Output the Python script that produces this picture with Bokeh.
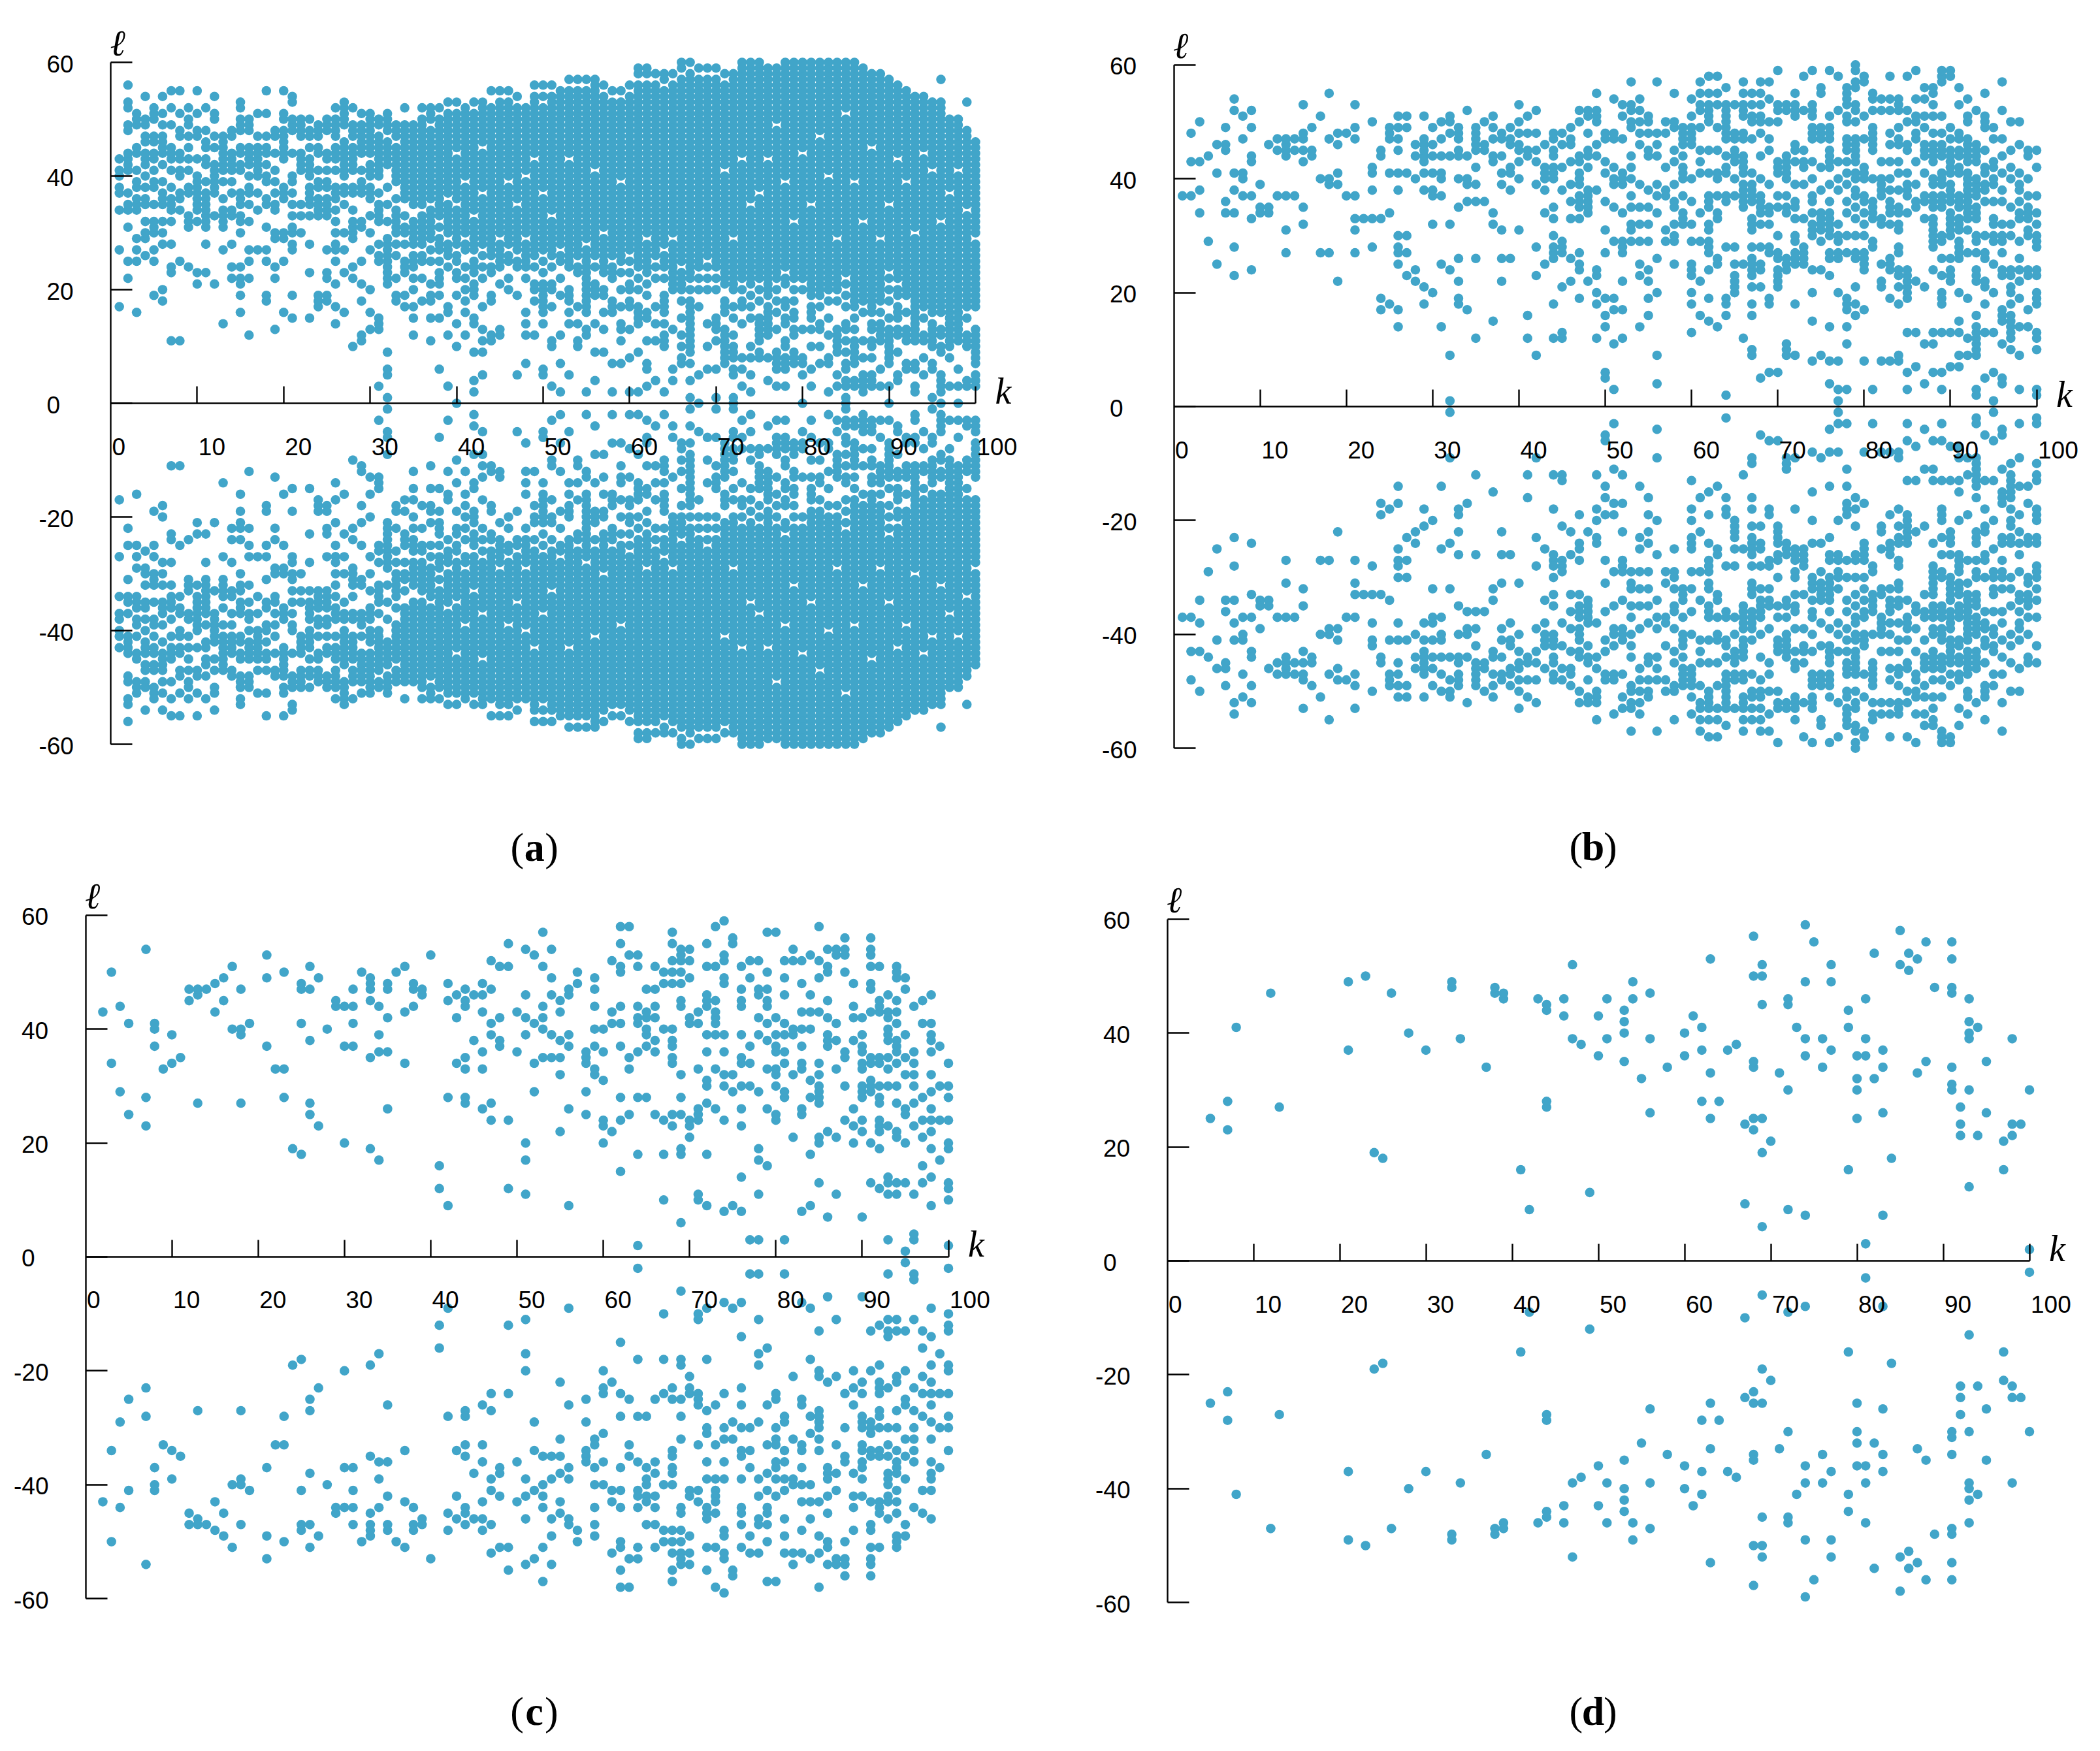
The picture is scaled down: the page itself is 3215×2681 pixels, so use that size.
from bokeh.plotting import figure
from bokeh.models import LinearAxis, FixedTicker, Range1d
from bokeh.layouts import gridplot
from bokeh.embed import file_html
from bokeh.resources import INLINE
from bokeh.core.properties import value

# ---------------- data ----------------
K_VALUES = list(range(1, 101))
X_TICKS = [0, 10, 20, 30, 40, 50, 60, 70, 80, 90, 100]
X_TICK_LABELS = ["0", "10", "20", "30", "40", "50", "60", "70", "80", "90", "100"]
Y_TICKS = [-60, -40, -20, 0, 20, 40, 60]
Y_TICK_LABELS = ["-60", "-40", "-20", "0", "20", "40", "60"]
PANEL_LETTERS = ["a", "b", "c", "d"]

# positive l values per k (k = 1..100); each point (k, l) also appears as (k, -l)
PANEL_A = [
    "17,27,34,37,38,40,41,43", "22,25,31,34,35,37,41-44,48,49,52,53,56",
    "16,25,27,29,34-36,38,39,41,44,45,49-51", "26,29,30,32,35,36,38,40,42-44,46,47,49,50,54",
    "19,25,27,30-32,35,38,39,41,43,44,46,47,50-52", "18,20,28,30,32,35-37,39,42,44-47,49,51,54",
    "11,23,24,28,32,34-36,38,41,43-45,49,52,55", "11,25,34,36,37,40,41,43,44,47,48,51,55",
    "24,31-33,37,38,41,43,45,47,49,50,52", "21,23,32,34-40,43,47,48,51,55",
    "23,28,31-37,39,42,43,45,46,48,52", "21,33,37-42,45,47,50,51,54",
    "14,27,31-34,36,39,41-47", "22,24,28,33,34,37,39,41-44,47,48",
    "16,19,21,22,24,30,32,33,35-37,41,42,44,45,48-50,52,53", "12,22,25,27,32,35,37,38,40,42-45,48-50",
    "27,34,37,40-45,47,51", "18,19,25,27,31,35,36,39,40,42,44,45,47,51,55",
    "13,22,24,29,30,34,35,37,39,41,44,47,48", "16,25,29,30,36-38,43-48,50,51,55",
    "15,19,27,28,30,31,33,35,37,39,40,44,48-50,53,54", "30,33,35,41-44,47-50",
    "15,23,28,33,35-38,40-43,45,47,48,50", "17-19,33-36,38,39,41,44,45,47-49",
    "18,19,22,23,27,33-36,38,39,41,43,44,48-50", "14,17,21,25,27,28,30,32,34,36-38,41,43-45,47-50,52",
    "16,23,27,30,35,37,38,40-46,49-53", "10,22,24,29-32,34,37,38,41-45,47-49,52",
    "11,12,18,21,25,31,32,37-39,41,44-49,51", "13,16,20,27,30,33,36-38,40-42,44-51",
    "3,13-15,25,26,28,32-35,37,40-47,49,50", "1,5,6,9,21-29,32,35,38,42-46,48-51",
    "18,19,22,26,28,30-34,36,39-45,47-49", "17,19,23-25,28,30,31,33,36-49,52",
    "12,15,17,20,22,24-26,28-32,35-49", "18,22,25,26,28-33,35-50,52",
    "11,15,18,19,21,25,27,29-34,36-48,50-52", "6,15,19,21-23,25,27-29,31,33-50,52",
    "3,12,16,17,24,26-28,30-35,37-51,53", "0,10,14,19,22,23,25,26,28-34,36-43,45-51,53",
    "12,16,18,20,22,24,27,28,30-38,40-52", "2,4,9,14,15,19-21,23-25,27-32,34-51,53",
    "5,9,11,13,17,22,24,26,28-36,38-44,46-53", "11,12,18,19,23,24,26-52,55",
    "12,13,21,24-28,30-53,55", "20,22,25,26,28-38,40-53,55",
    "5,19,24,25,27-34,36-52,54", "7,12,14,16,22,24-28,30-39,41-52",
    "12,18,20,21,24,26-42,44-54,56", "5,6,14,16-21,23,25,27-36,38-52,54,56",
    "3,10,11,17,20,21,24,26-32,34-54,56", "2,7,12,19,22,25,26,28-55",
    "5,14,16,18-20,24-42,44-55,57", "10,11,14,17,23,24,26-55,57",
    "2,12,13,16-27,29-55,57", "4,9,14,19-21,24,26-40,42-57",
    "9,13,16,19,20,23-29,31-54,56", "2,7,16-18,22-24,26-53,55",
    "7,11,13,14,17,20,23,25-38,40-53,55", "2,8,13,17,18,20,21,23,25,27-54,56",
    "2,9,14-17,20,22,24-56,58,59", "3,6,7,11,15,16,19,21,23-28,30-56,58,59",
    "4,11,14,17,22,24,26-56,58", "2,10-12,14,16-19,22,24-26,28-55,57,58",
    "4,6,13,20-28,30-56,58", "7,8,10,12,15,18,20-23,25-57,59,60",
    "1,4,7,9-18,20,22-58,60", "0,5,17,20,22,24-57,59",
    "6,10,14,20,22,24,26-57,59", "1,6,11,13-15,20,22,24-57,59",
    "7-13,16-18,21-40,42-56,58", "0,1,5,6,8-10,12,15,17,20-28,30-58",
    "3,6,8,14,17,18,20,22-42,44-60", "2,5,8,10,15,17,19,21-34,36-60",
    "8,9,11-15,18,20,22-36,38-60", "4,8,12-17,19-42,44-59",
    "3,6-9,13,16,18,20,22-48,50-59", "3,6-8,10,11,14,15,17,18,21,22,24-38,40-60",
    "7-9,12,13,15,16,18,20,22-31,33-60", "0,5,7,8,13,20,22-43,45-60",
    "3,6,10,13,15-17,19-34,36-60", "7,10,13,14,17,19-46,48-60",
    "2,7,8,12,15,18,20-39,41-60", "3,5,9-13,18,20-28,30-60",
    "0,1,3,4,6,7,9,11,13,14,17,19,21,23-50,52-60", "3,4,7-11,13,15,17-38,40-60",
    "2-5,8,11,16,18-31,33-59", "3-5,8,10,11,13,14,16-44,46-58",
    "3,6,11-14,16,18-28,30-58", "0,3,7-13,15,18,20,22,24-34,36-57",
    "4,5,9,12,13,15-17,19,20,22-42,44-56", "6,7,11-13,16,19-38,40-55",
    "2,3,6,7,11-29,31-54", "5,8,11,12,15,17-43,45-54",
    "1,6,7,10-14,16-40,42-53", "0,2-5,9,10,12,13,16-31,33-53,57",
    "3,8,10-36,38-50", "0,3,6,11-40,42-50",
    "3,4,10-12,15,17-33,35-48,53", "3-5,7-13,17-28,30-46",
]

PANEL_B = [
    "37", "37,43,48", "34,38,43,50", "29,44", "25,41,46",
    "34,36,45,46,49", "23,28,34,38,41,52,54", "37,40,41,47,51", "24,33,37,43,44,49,52", "34,35,39",
    "34,35,46", "37,45,47", "27,31,37,44-47", "37,45,47", "32,35,43,45,47,48,53",
    "44,45,49", "27,40,51", "27,39,40,47,55", "22,39,41,46,48", "37,48",
    "27,31,33,37,47,49,53", "33", "28,33,38,41,42,50", "17,19,33,44,45", "18,34,41,47-49",
    "14,17,25,27,28,30,38,41,45,47,49,51", "23,27,30,41,49,51", "22,24,40,44,46", "18,21,38,41,43-47,51", "20,32,37,38,41,44,46,49",
    "14,25,37,40,41,44,47,50", "1,9,24,32,44,48,50,51", "18,19,22,26,35,40,44,45,47-49", "17,36,39,40,44,52", "12,26,36,39,42,45-49",
    "36,45,46,50", "15,32,34,43,44,47,49,51", "22,26,31,39,41,44,47,48", "26,38,41,42,46,47,49", "31,40,43,45,46,48,50,53",
    "12,16,44,45,48,51", "9,23,28,39,43,45,48,52", "25,34,38,40-42,46", "12,18,26-28,30,33,35,40-42,44,45,47,48", "12,13,21,27-29,38,42,46,48",
    "22,26,33,36,39,43,46,47,49", "19,24,25,27,33,35-37,39-41,43,44,50,52", "22,34-38,42,44,45,48,51,52", "12,18,20,23,24,38,44,46,50-52,55", "5,6,14,16,19,27,31,36,41,43,47,48",
    "3,11,17,19,29,35,39,40,42,47,48,54", "12,17,22,27-29,34,39-41,47,51,53", "29,31,32,35,37,40,42,44,49,50,52,53,57", "14,23,25,29,32,35,39,46,48,50,52,54", "16,19,22,24,29,32,35,38,44,45,48,50,51",
    "4,9,20,26,34,37,39,44,46,48,57", "29,31,37,38,42,48,50", "25,29,30,32,35,36,39,43,45,49,50,55", "32-34,37,40-42,44,46-49", "13,18,20,23-25,29,32,36,40,46-49,51,54",
    "16,22,29,34,41,43,45,49,52,53,55,57", "15,19,24,27-29,31,32,35-37,41,45,50-53,55,58", "14,25,26,33,34,37,40,41,45,49,53,55,58", "2,16,18,19,28,36,37,41,42,44,47-53,56", "20-23,25,28,37,40,43-45,47,48,53",
    "12,25,35-39,41-44,47,48,51-53,55,57", "9,10,16,18,21,23-26,28,31-33,36-39,41,47,50,51,53,55", "5,21,24,25,28,32,34-37,40,44,48,50,51,53,55,57", "6,18,19,27,28,32,34,35,39,45,47,50,54,57", "6,21-24,26,27,30,35,37,41-43,50,52,53,59",
    "9-11,24-26,34,35,37,40-44,52,53", "9,18,25-27,29,30,33,35,36,39,43,45,46,51-53,55", "25-28,33,39,42,43,45,52,58", "8,15,20,24,30-32,34,36,37,40,43,47-49,51-53,59", "9,24,29,31-34,38,42,47-49,55,56",
    "4,8,14,23,26,27,30-34,36,39,42-45,47-49,51,59", "1,3,8,20,26,27,29,30,32,38,40,43,52,58", "3,11,14,17-19,27,30,34,36,39,41,43,45-47,50,51,53-56", "16,18,21,26,27,30,33,35,37,38,40,41,43-47,50,52,53,56,57,59,60", "8,17,24-27,30,32,34,36,37,40-42,47,51,57,58",
    "3,28,29,33-36,40,45-49,52,54,55", "8,21,22,25,32,33,37-40,43,52,54", "8,19,24-26,32,34-36,38,40,43,46,48,52,54,58", "8,9,18,21,23,24,27,28,31,32,34,35,38,41,43,46,47,49,52-54", "3,6,13,19-24,34,37-39,41,45,46,50,52,58",
    "7,13,22,35,36,39,43,47,48,50,51,54,59", "4,11,21,33,36,37,41,44-46,49,51,54,56", "6,11,13,24,28-33,35-37,39,40,43-46,48,51,53,55,56", "3,6,13,18-20,23,26,29,30,35-37,39-41,44-46,48,51,57-59", "7,13,22-24,26,30-34,36-39,41-45,47,49,58,59",
    "7,9,13,15,20,26-29,31-33,35-37,41,42,44,45,47,48,53,56", "9,12,19,27,31,33-41,43-47,50,51,54", "2,3,9-14,16,22-24,27,29,30,33-35,37-40,43-46,52", "5,13,18,21,22,26,27,30,36,38,39,41,42,45,49-51,55", "1,6,13,20,25,29,30,32,33,36,39,40,42,43,47,49",
    "4,5,11,15-17,23,24,27,29,30,32,36,38,41,44,47,52,57", "10,12-16,18,20,21,23,24,30,32,35,40,42,45,50", "3,9,14,19,22,24,26,29,33,34,36,38,39,41,46,50", "14,17,23,24,30,31,33-35,37,40,44,45", "2,3,10,12,13,18-20,23,24,28-30,32,34,37,42,45",
]

PANEL_C = [
    "", "43", "34,50", "29,44", "25,41", "", "23,28,54", "37,40,41", "33", "34,39",
    "35", "45,47", "27,46,47", "47", "43,48", "45,49", "40,51", "27,39,40,47", "41", "",
    "37,49,53", "33", "28,33,50", "19", "18,41,47,48", "25,27,38,47,51", "23,49", "40", "44,45", "20,37,44",
    "37,41,44,47", "50", "19,35,45,47-49", "17,36,39,44", "26,36,42,47,48", "50", "34,43,51", "44,47,48", "46,47", "53",
    "12,16", "9,28,45,48", "34,42,46", "27,28,33,35,44,45,47", "38,46", "26,33,36,43,46,48", "24,27,39,41,47,52", "37,38,42,51", "12,24,51,55", "36,43",
    "11,17,20,39,42,46,54", "29,34,41,53", "35,40,42,44,51,57", "35,39,46,49,54", "22,32,35,38,43,45", "9,26,37,39,46,47", "48,50", "25,29,34-36", "32,33,37,40,44,47,49", "20,23,24,31,36,40",
    "22,41,43,52", "15,24,28,37,41,44,50,51,55,58", "25,33,35,53,58", "2,18,28,36,41,42,44,51,53", "28,37,39,40,42,43,47", "25,36,38,42,44,47,51", "10,18,24,40,48,50", "23,25,34,35,37,38,40,48,50,52,55,57", "6,18,19,25,28,32,44,45,48,50,52-54", "21,23,24,41,42,49,52,54",
    "10,11,24-26,33,41,43", "9,18,27,30,31,36,39,44-46,51,55", "26,33,39,41-43,45,51,58", "8,24,30,32,36,39,48,49,52,53,59", "9,29,32,55,56", "8,14,23,26,30,34,35,39,44,45,47,51", "3,30,34,37,49,52", "3,11,17,19,29,39,42,46,47,52", "16,26,33,38,41,44,45,47,50,57", "24,25,30,32,33,36,37,39,42,57",
    "3,28,29,34,36,39,41,46,49,52", "21,32,39,40,52,54", "8,25,26,33,34,37,40,43,48,52", "9,18,28,31,40,43,46,53", "13,20,21,27-30,32,34,43,49,52,58", "7,22,37-39,42,45,50,51,54", "11,21,33,38,41,53,54", "24,30,35,36,50,53,54,56", "20,23,26,38,42,44,48", "7,22,24,28-30,33,34,36,37,39,42",
    "13,20,29-31,34,35,43,47,48,51,53,54,56", "12,19,22-24,27,28,30,34,35,43-45,51", "3,11,13,14,23,30,33,35,38-40,42,43,46", "11,13,21,22,27,30,34,36-38,41,43,45,49-51", "1,13,20,25,26,32,35,39,47,49", "3,4,11,23,27,30,32,34,36,44", "13,16,21,24,28,41,45", "9,14,19,22,24,26,29,32,36,38,39,41,46", "17,24,30,37", "2,10,12,13,19,20,24,28,30,34",
]

PANEL_D = [
    "", "", "", "", "25", "", "23,28", "41", "", "",
    "", "47", "27", "", "", "", "", "", "", "",
    "37,49", "", "50", "19", "18", "47", "", "40", "", "37",
    "", "", "48,49", "39", "", "", "34", "47,48", "46,47", "",
    "16", "9", "46", "27,28,44,45", "", "43,46", "39,52", "38", "12", "36,43",
    "39,46", "", "35,40,42,44", "46,49", "32", "26,39,47", "", "34", "", "36,40",
    "43", "28,37,41", "25,33,53", "28", "37", "38", "10,24", "23,25,34,35,50,57", "6,19,25,45,50,52", "21",
    "33", "9,30,45,46", "41", "8,36,39,49,59", "56", "34,39", "37,49,52", "", "16,41,44", "25,30,32,36",
    "3,36,39,46", "32,54", "8,26,34,37", "18", "52,58", "51,54", "33,53", "35,56", "48", "",
    "30,31,34,47,48,53,56", "22,24,27", "13,30,39,40,42,46", "22,41", "26,35", "", "16,21", "22,24,39", "24", "2,30",
]

# ---------------- style / layout ----------------
DOT = "#41A5C9"
FIG_W = 1605
TOP_H, BOTTOM_H = 1334, 1342


def expand(spec):
    vals = set()
    for part in spec.split(","):
        part = part.strip()
        if not part:
            continue
        if "-" in part:
            a, b = part.split("-")
            vals.update(range(int(a), int(b) + 1))
        else:
            vals.add(int(part))
    return sorted(vals)


def points(cols):
    ks, ls = [], []
    for k, spec in zip(K_VALUES, cols):
        for l in expand(spec):
            ks.append(k)
            ls.append(l)
            if l != 0:
                ks.append(k)
                ls.append(-l)
    return ks, ls


def panel(cols, letter, height, xr, yr, cap):
    p = figure(width=FIG_W, height=height, x_range=Range1d(*xr), y_range=Range1d(*yr),
               x_axis_type=None, y_axis_type=None, toolbar_location=None,
               output_backend="svg", min_border=0, title=None,
               outline_line_color=None, background_fill_color="white",
               border_fill_color="white")
    ks, ls = points(cols)
    p.scatter(ks, ls, size=14.6, fill_color=DOT, line_color=None)

    xa = LinearAxis(fixed_location=0, bounds=(X_TICKS[0], X_TICKS[-1]),
                    ticker=FixedTicker(ticks=X_TICKS[1:], minor_ticks=[]),
                    major_tick_in=26, major_tick_out=0, minor_tick_in=0, minor_tick_out=0,
                    axis_line_width=2.4, axis_line_color="black",
                    major_tick_line_width=2.4, major_tick_line_color="black",
                    major_label_overrides={t: "" for t in X_TICKS})
    p.add_layout(xa, "below")
    ya = LinearAxis(fixed_location=0, bounds=(Y_TICKS[0], Y_TICKS[-1]),
                    ticker=FixedTicker(ticks=Y_TICKS, minor_ticks=[]),
                    major_tick_in=33, major_tick_out=0, minor_tick_in=0, minor_tick_out=0,
                    axis_line_width=2.4, axis_line_color="black",
                    major_tick_line_width=2.4, major_tick_line_color="black",
                    major_label_overrides={t: "" for t in Y_TICKS})
    p.add_layout(ya, "left")

    # tick labels
    p.text(x=[0] * len(Y_TICKS), y=Y_TICKS, text=Y_TICK_LABELS,
           x_offset=[-98 - (12 if s.startswith("-") else 0) for s in Y_TICK_LABELS],
           y_offset=2, text_align="left", text_baseline="middle",
           text_font=value("Liberation Sans"), text_font_size=value("37px"), text_color="black")
    p.text(x=X_TICKS, y=[0] * len(X_TICKS), text=X_TICK_LABELS, x_offset=2, y_offset=66,
           text_align="left", text_baseline="middle",
           text_font=value("Liberation Sans"), text_font_size=value("37px"), text_color="black")

    # axis names
    p.text(x=[0], y=[Y_TICKS[-1]], text=["\u2113"], x_offset=-1, y_offset=-30,
           text_align="left", text_baseline="middle", text_font_style="italic",
           text_font=value("DejaVu Serif"), text_font_size=value("56px"), text_color="black")
    p.text(x=[X_TICKS[-1]], y=[0], text=["k"], x_offset=30, y_offset=-19,
           text_align="left", text_baseline="middle", text_font_style="italic",
           text_font=value("Liberation Serif"), text_font_size=value("56px"), text_color="black")

    # caption (letter in bold)
    cx, cy = cap
    p.text(x=[cx], y=[cy], text=[letter], text_align="center", text_baseline="middle",
           text_font=value("Liberation Serif"), text_font_style="bold",
           text_font_size=value("62px"), text_color="black")
    p.text(x=[cx], y=[cy], text=["("], x_offset=-16, text_align="right", text_baseline="middle",
           text_font=value("Liberation Serif"), text_font_size=value("62px"), text_color="black")
    p.text(x=[cx], y=[cy], text=[")"], x_offset=16, text_align="left", text_baseline="middle",
           text_font=value("Liberation Serif"), text_font_size=value("62px"), text_color="black")
    return p


pa = panel(PANEL_A, PANEL_LETTERS[0], TOP_H, (-12.76, 108.46), (-82.41, 70.92), (49.0, -78.05))
pb = panel(PANEL_B, PANEL_LETTERS[1], TOP_H, (-14.50, 107.0), (-81.65, 71.33), (48.6, -77.29))
pc = panel(PANEL_C, PANEL_LETTERS[2], BOTTOM_H, (-9.88, 111.62), (-86.24, 67.66), (52.0, -79.8))
pd = panel(PANEL_D, PANEL_LETTERS[3], BOTTOM_H, (-13.75, 107.84), (-85.55, 68.35), (49.4, -79.1))

grid = gridplot([[pa, pb], [pc, pd]], toolbar_location=None)
open("out.html", "w").write(file_html(grid, INLINE))
